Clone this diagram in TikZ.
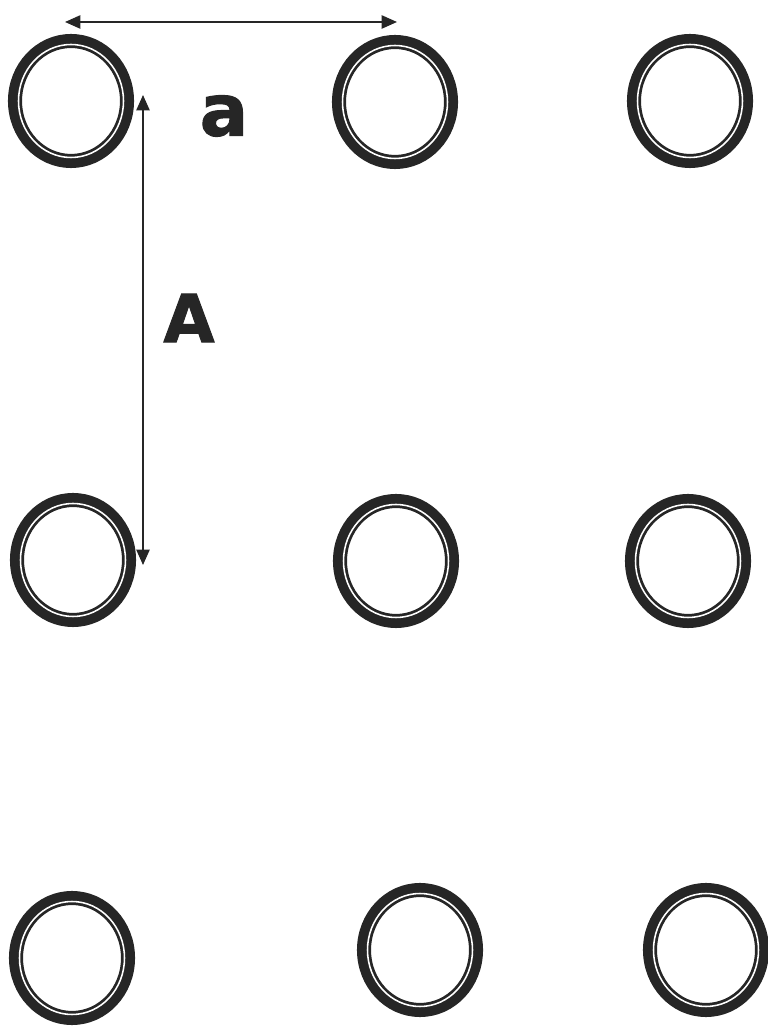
\documentclass[tikz,border=0pt]{standalone}
\usepackage{fontspec}
\usetikzlibrary{arrows.meta}
\newfontfamily\labelfont{DejaVu Sans}[BoldFeatures={FakeBold=1.5}]
\definecolor{ringgray}{RGB}{38,38,38}

\begin{document}
\begin{tikzpicture}[
    x=0.025cm, y=0.025cm,
    ring/.style={draw=ringgray, line width=10pt},
    gap/.style={draw=white, line width=1.1pt},
    dim/.style={draw=ringgray, line width=1.2pt, {Triangle[length=11pt,width=9.5pt]}-{Triangle[length=11pt,width=9.5pt]}},
    lbl/.style={font=\labelfont\bfseries\fontsize{#1}{#1}\selectfont, text=ringgray, inner sep=0pt}
]
    \useasboundingbox (0,0) rectangle (768,1027);

    % Ring centres
    \coordinate (r11) at (71, 926);
    \coordinate (r12) at (395, 925);
    \coordinate (r13) at (690, 926);
    \coordinate (r21) at (73, 467);
    \coordinate (r22) at (396, 466);
    \coordinate (r23) at (688, 466);
    \coordinate (r31) at (72, 69);
    \coordinate (r32) at (420, 77);
    \coordinate (r33) at (706, 77);

    % Rings
    \foreach \c in {r11,r12,r13,r21,r22,r23,r31,r32,r33} {
        \draw[ring] (\c) ellipse [x radius=56, y radius=60];
        \draw[gap] (\c) ellipse [x radius=52.5, y radius=56.5];
    }

    % Spacing arrows
    \coordinate (aleft) at (65, 1005);
    \coordinate (aright) at (397, 1005);
    \coordinate (Atop) at (143, 932);
    \coordinate (Abot) at (143, 462);
    \draw[dim] (aleft) -- (aright);
    \draw[dim] (Atop) -- (Abot);

    % Labels
    \node[lbl=51] (labela) at (224, 911) {a};
    \node[lbl=47] (labelA) at (189, 709) {A};

\end{tikzpicture}
\end{document}
